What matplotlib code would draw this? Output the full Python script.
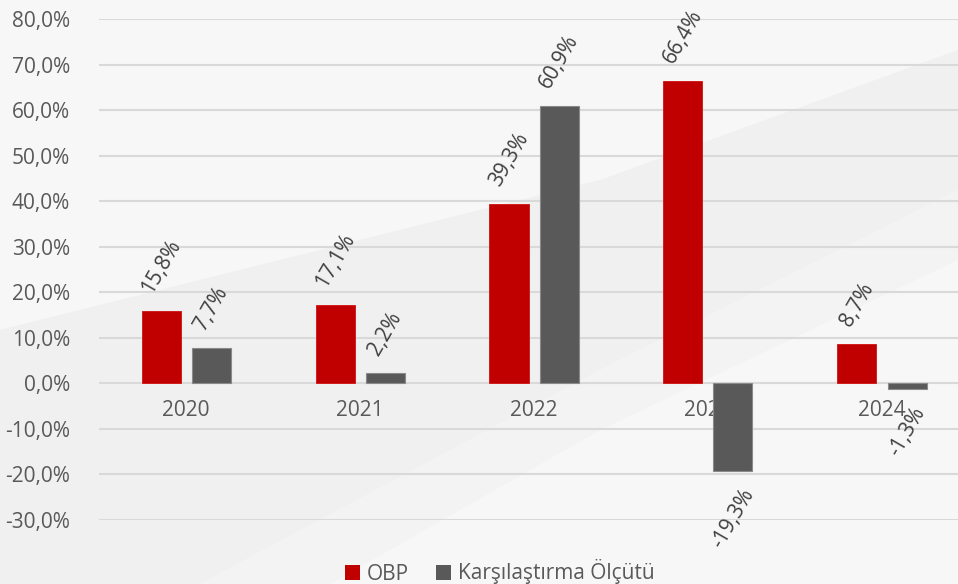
import matplotlib
matplotlib.use("Agg")
import matplotlib.pyplot as plt
from matplotlib.patches import Polygon, Patch
import numpy as np

years = ["2020", "2021", "2022", "2023", "2024"]
obp = [15.8, 17.1, 39.3, 66.4, 8.7]
benchmark = [7.7, 2.2, 60.9, -19.3, -1.3]
series_names = ["OBP", "Karşılaştırma Ölçütü"]
y_ticks = [-30, -20, -10, 0, 10, 20, 30, 40, 50, 60, 70, 80]

plt.rcParams['font.family'] = ['Open Sans', 'DejaVu Sans']

W, H = 958, 584
fig = plt.figure(figsize=(W / 100, H / 100), dpi=100)
fig.patch.set_facecolor("#f7f7f8")

# subtle diagonal background band (separate background axes)
bg = fig.add_axes([0, 0, 1, 1], zorder=-10)
bg.set_xlim(0, W)
bg.set_ylim(H, 0)
bg.axis("off")
bg.add_patch(Polygon([[0, 330], [600, 180], [W, 50], [W, 190], [600, 370], [200, 584], [0, 584]],
                     closed=True, facecolor="#f0f0f1", edgecolor="none"))
bg.add_patch(Polygon([[0, 584], [200, 584], [600, 370], [W, 190], [W, 260], [600, 430], [330, 584]],
                     closed=True, facecolor="#f3f3f4", edgecolor="none"))

left_px, right_px, top_px, bot_px = 99, W, 19, 520
ax = fig.add_axes([left_px / W, 1 - bot_px / H, (right_px - left_px) / W, (bot_px - top_px) / H], zorder=1)
ax.patch.set_alpha(0)
ax.set_axisbelow(True)

x = np.arange(len(years))
spacing = 174.0
bw = 39 / spacing
off = 25 / spacing
red, grey = "#c00000", "#595959"
b1 = ax.bar(x - off, obp, bw, color=red, edgecolor="#d01010", linewidth=0.6, zorder=2)
b2 = ax.bar(x + off, benchmark, bw, color=grey, edgecolor="#8a8a8a", linewidth=0.8, zorder=2)

ax.set_xlim(-0.5, -0.5 + (right_px - left_px) / spacing)
ax.set_ylim(-30, 80)
ax.set_yticks(y_ticks)
ax.set_yticklabels([f"{v:.1f}%".replace(".", ",") for v in y_ticks])
ax.grid(axis="y", color="#d9d9d9", linewidth=1.5)
ax.tick_params(axis="y", length=0, pad=21, labelsize=15, labelcolor="#595959")

ax.spines["bottom"].set_position(("data", 0))
for s in ax.spines.values():
    s.set_visible(False)
ax.set_xticks(x)
ax.set_xticklabels(years)
ax.tick_params(axis="x", length=0, pad=12, labelsize=15, labelcolor="#595959")

for bars, vals in ((b1, obp), (b2, benchmark)):
    for rect, v in zip(bars, vals):
        cx = rect.get_x() + rect.get_width() / 2
        label = f"{v:.1f}%".replace(".", ",")
        if v >= 0:
            ax.annotate(label, (cx, v), xytext=(0, 14), textcoords="offset pixels",
                        ha="center", va="bottom", rotation=60, fontsize=15,
                        color="#404040", zorder=3, annotation_clip=False)
        else:
            ax.annotate(label, (cx, v), xytext=(0, -14), textcoords="offset pixels",
                        ha="center", va="top", rotation=60, fontsize=15,
                        color="#404040", zorder=3, annotation_clip=False)

handles = [Patch(facecolor=red, edgecolor="none"), Patch(facecolor=grey, edgecolor="none")]
fig.legend(handles, series_names, loc="center", bbox_to_anchor=(500 / W, 1 - 572 / H),
           ncol=2, frameon=False, fontsize=15, labelcolor="#595959",
           handlelength=0.7, handleheight=0.7, handletextpad=0.35, columnspacing=1.3,
           borderaxespad=0, borderpad=0)

fig.savefig("out.png", dpi=100, facecolor=fig.get_facecolor())
